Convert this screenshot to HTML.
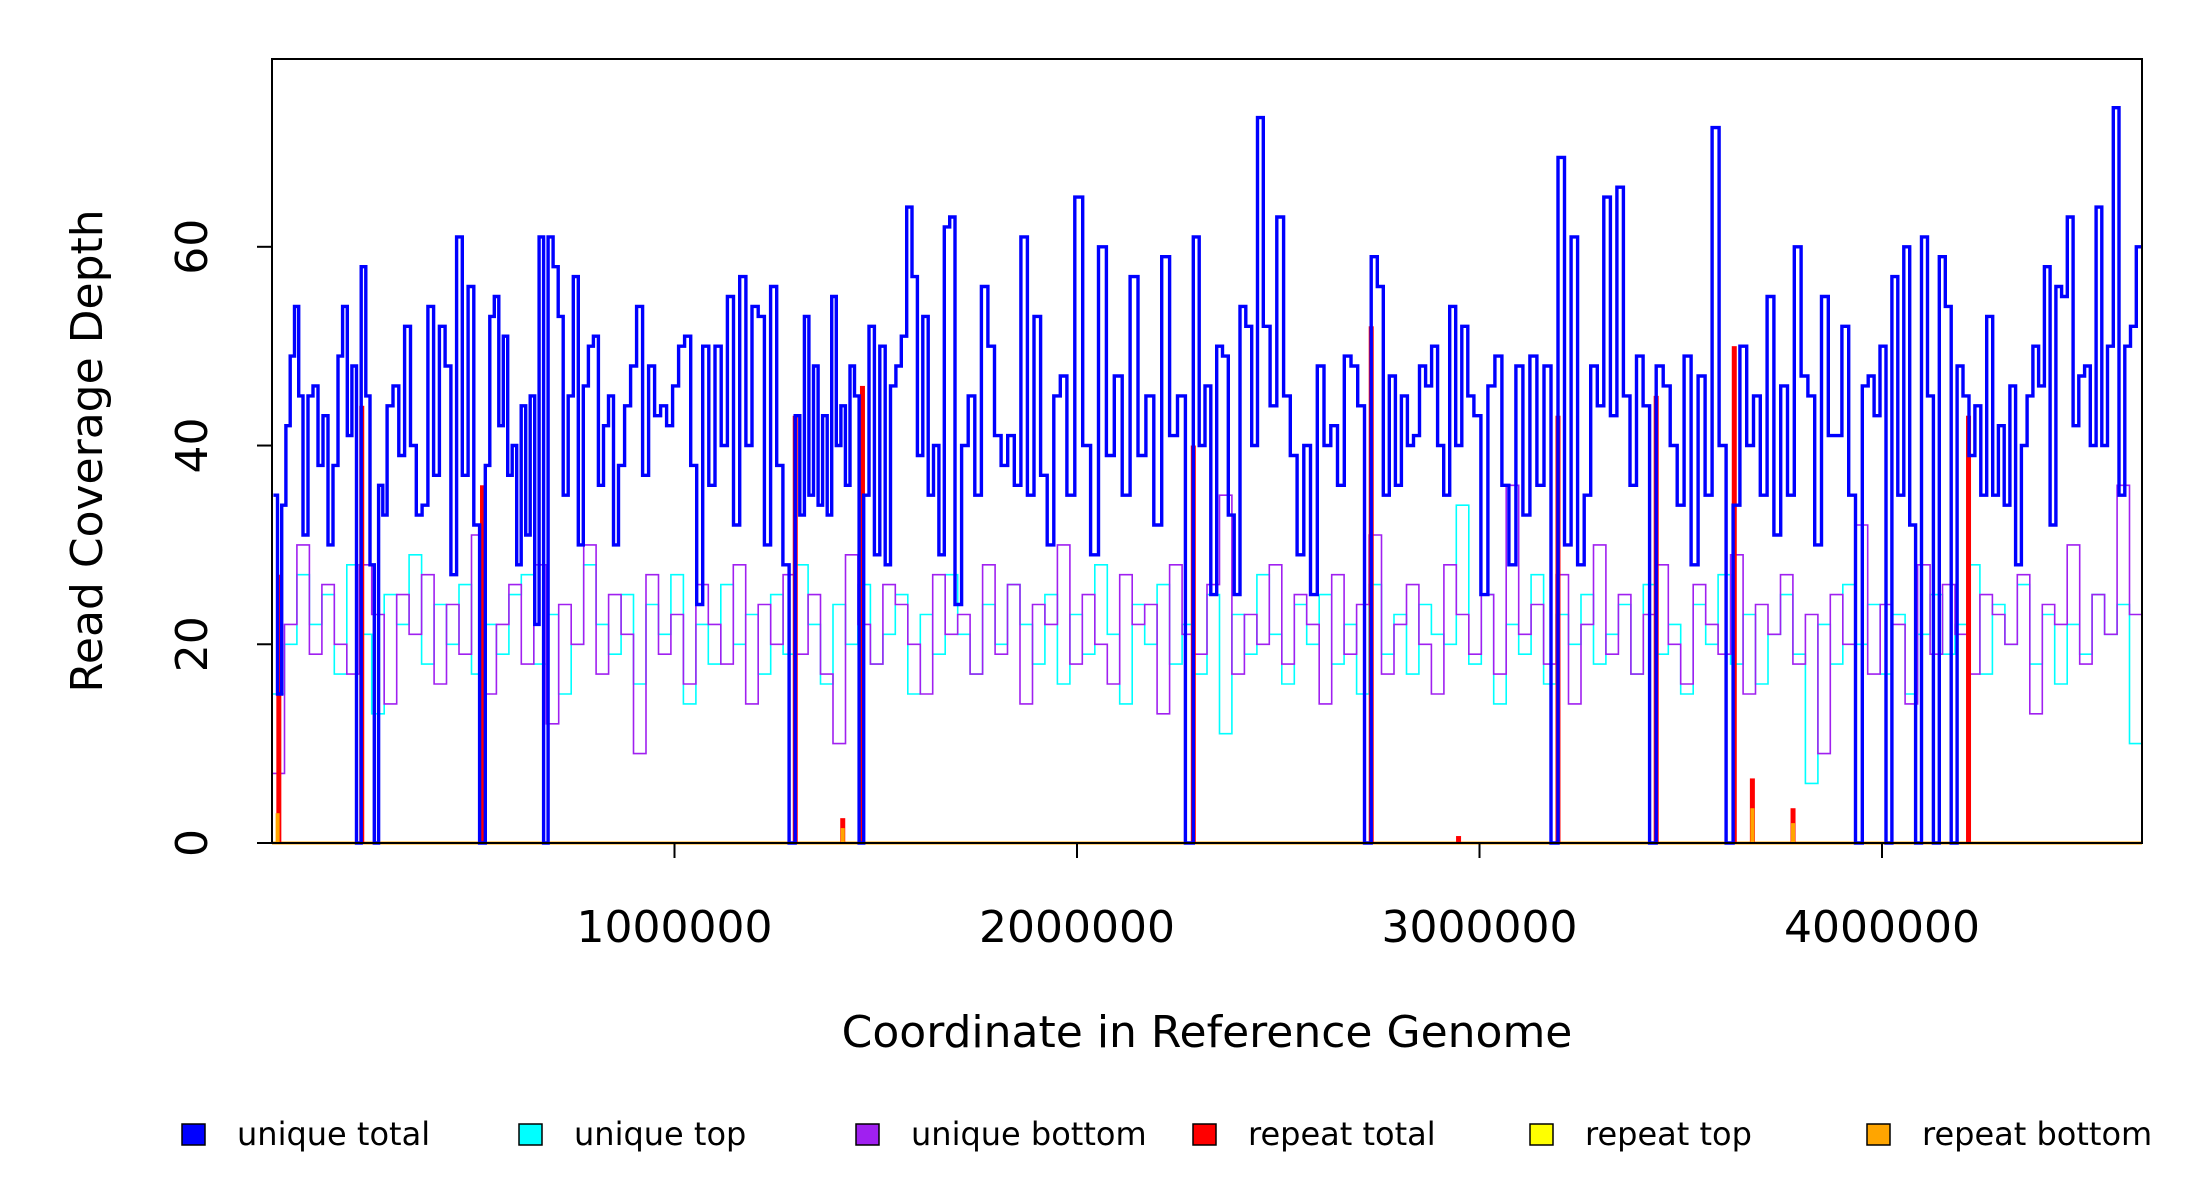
<!DOCTYPE html>
<html><head><meta charset="utf-8"><style>
html,body{margin:0;padding:0;background:#fff;}
svg{display:block;font-family:"DejaVu Sans","Liberation Sans",sans-serif;}
</style></head><body>
<svg id="chart" width="2200" height="1200" viewBox="0 0 2200 1200" xmlns="http://www.w3.org/2000/svg">
<g id="plot"></g>
<rect x="272" y="59" width="1870" height="784" fill="none" stroke="#000" stroke-width="2"/>
<g id="axes"></g>
<text transform="translate(102,451) rotate(-90)" text-anchor="middle" font-size="44">Read Coverage Depth</text>
<text x="1207" y="1047" text-anchor="middle" font-size="44">Coordinate in Reference Genome</text>
<g id="legend"></g>
</svg>
<script>
const NS='http://www.w3.org/2000/svg';
const X0=272,X1=2142,Y0=843,Y1=59;
const xMax=4646000, yMax=78.9;
const xTicks=[1000000,2000000,3000000,4000000];
const yTicks=[0,20,40,60];
const groupStarts=[3500,24000,77000,164000,233000,286000,373000,530000,686000,861000,1070000,1300000,1470000,1697000,1975000,2289000,2463000,2731000,2986000,3195000,3439000,3630000,3951000,4275000,4646000];
const totalGroups=[
[35,15],
[34,42,49,54,45],
[31,45,46,38,43,30,38],
[49,54,41,48,0,58],
[45,28,0,36,33],
[44,46,39,52,40,33],
[34,54,37,52,48,27,61,37,56,32,0],
[38,53,55,42,51,37,40,28,44,31,45,22,61,0],
[61,58,53,35,45,57,30,46,50,51,36,42,45,30],
[38,44,48,54,37,48,43,44,42,46,50,51,38,24],
[50,36,50,40,55,32,57,40,54,53,30,56,38,28,0],
[43,33,53,35,48,34,43,33,55,40,44,36,48,45,0],
[35,52,29,50,28,46,48,51,64,57,39,53,35,40,29,62,63],
[24,40,45,35,56,50,41,38,41,36,61,35,53,37,30,45,47],
[35,65,40,29,60,39,47,35,57,39,45,32,59,41,45,0],
[61,40,46,25,50,49,33,25,54,52,40,73],
[52,44,63,45,39,29,40,25,48,40,42,36,49,48,44,0],
[59,56,35,47,36,45,40,41,48,46,50,40,35,54,40,52,45],
[43,25,46,49,36,28,48,33,49,36,48,0],
[69,30,61,28,35,48,44,65,43,66,45,36,49,44,0],
[48,46,40,34,49,28,47,35,72,40,0],
[34,50,40,45,35,55,31,46,35,60,47,45,30,55,41,41,52,35,0],
[46,47,43,50,0,57,35,60,32,0,61,45,0,59,54,0,48,45,39,44,35,53],
[35,42,34,46,28,40,45,50,46,58,32,56,55,63,42,47,48,40,64,40,50,74,35,50,52,60]
];
const uniqueTop=[15,20,27,22,25,17,28,21,13,25,22,29,18,24,20,26,17,22,19,25,27,18,23,15,20,28,22,19,25,16,24,21,27,14,22,18,26,20,23,17,25,19,28,22,16,24,20,26,18,21,25,15,23,19,27,21,17,24,20,26,22,18,25,16,23,19,28,21,14,24,20,26,18,22,17,25,11,23,19,27,21,16,24,20,25,18,22,15,26,19,23,17,24,21,20,34,18,25,14,22,19,27,16,23,20,25,18,21,24,17,26,19,22,15,24,20,27,18,23,16,21,25,19,6,22,18,26,20,24,17,23,15,21,25,19,22,28,17,24,20,26,18,23,16,22,19,25,21,24,10];
const uniqueBottom=[7,22,30,19,26,20,17,28,23,14,25,21,27,16,24,19,31,15,22,26,18,28,12,24,20,30,17,25,21,9,27,19,23,16,26,22,18,28,14,24,20,27,19,25,17,10,29,22,18,26,24,20,15,27,21,23,17,28,19,26,14,24,22,30,18,25,20,16,27,22,24,13,28,21,19,26,35,17,23,20,28,18,25,22,14,27,19,24,31,17,22,26,20,15,28,23,19,25,17,36,21,24,18,27,14,22,30,19,25,17,23,28,20,16,26,22,19,29,15,24,21,27,18,23,9,25,20,32,17,24,22,14,28,19,26,21,17,25,23,20,27,13,24,22,30,18,25,21,36,23];
const repeatPos=[17000,223000,523000,1300000,1418000,1467000,2289000,2731000,2948000,3195000,3439000,3633000,3678000,3779000,4215000];
const repeatTotal=[27,44,36,43,2.5,46,40,52,0.7,43,45,50,6.5,3.5,43];
const repeatBottomPos=[14000,1418000,3678000,3779000];
const repeatBottom=[3,1.5,3.5,2];

const sx=v=>X0+v/xMax*(X1-X0);
const sy=v=>Y0-v/yMax*(Y0-Y1);
const plot=document.getElementById('plot');
function mk(tag,attrs,parent){const e=document.createElementNS(NS,tag);for(const k in attrs)e.setAttribute(k,attrs[k]);parent.appendChild(e);return e;}
function stepPath(xs,vs,endX){let d='';for(let i=0;i<vs.length;i++){const xa=sx(xs[i]),xb=sx(i+1<xs.length?xs[i+1]:endX),y=sy(vs[i]);d+=(i?'L':'M')+xa.toFixed(1)+','+y.toFixed(1)+'L'+xb.toFixed(1)+','+y.toFixed(1);}return d;}
function even(arr){const w=xMax/arr.length;return arr.map((_,i)=>i*w);}
const base=mk('line',{x1:X0,x2:X1,y1:sy(0),y2:sy(0),stroke:'#ffa500','stroke-width':3},plot);


const pc=mk('path',{d:stepPath(even(uniqueTop),uniqueTop,xMax),fill:'none',stroke:'#00ffff','stroke-width':1.6},plot);


const pp=mk('path',{d:stepPath(even(uniqueBottom),uniqueBottom,xMax),fill:'none',stroke:'#a020f0','stroke-width':1.6},plot);


const tx=[],tv=[];
totalGroups.forEach((g,gi)=>{const a=groupStarts[gi],b=groupStarts[gi+1],w=(b-a)/g.length;g.forEach((v,i)=>{tx.push(a+i*w);tv.push(v);});});
repeatPos.forEach((p,i)=>{const r=mk('rect',{x:sx(p)-2.5,width:5,y:sy(repeatTotal[i]),height:sy(0)-sy(repeatTotal[i]),fill:'#ff0000'},plot);

});
const pb=mk('path',{d:stepPath(tx,tv,xMax),fill:'none',stroke:'#0000ff','stroke-width':3.4},plot);


repeatBottomPos.forEach((p,i)=>{const r=mk('rect',{x:sx(p)-2,width:4,y:sy(repeatBottom[i]),height:sy(0)-sy(repeatBottom[i]),fill:'#ffa500'},plot);

});
const ax=document.getElementById('axes');
xTicks.forEach(t=>{const l=mk('line',{x1:sx(t),x2:sx(t),y1:Y0,y2:Y0+15,stroke:'#000','stroke-width':2},ax);


const tt=mk('text',{x:sx(t),y:942,'text-anchor':'middle','font-size':44},ax);tt.textContent=t;

});
yTicks.forEach(t=>{const l=mk('line',{x1:X0-15,x2:X0,y1:sy(t),y2:sy(t),stroke:'#000','stroke-width':2},ax);


const tt=mk('text',{transform:`translate(207,${sy(t)}) rotate(-90)`,'text-anchor':'middle','font-size':44},ax);tt.textContent=t;

});
const legNames=['unique total','unique top','unique bottom','repeat total','repeat top','repeat bottom'];
const legColors=['#0000ff','#00ffff','#a020f0','#ff0000','#ffff00','#ffa500'];
const legX=[182,519,856,1193,1530,1867];
const lg=document.getElementById('legend');
legNames.forEach((n,i)=>{const r=mk('rect',{x:legX[i],y:1124,width:23,height:21,fill:legColors[i],stroke:'#000','stroke-width':1.5},lg);


const t=mk('text',{x:legX[i]+55,y:1145,'font-size':32},lg);t.textContent=n;

});
</script>
</body></html>
